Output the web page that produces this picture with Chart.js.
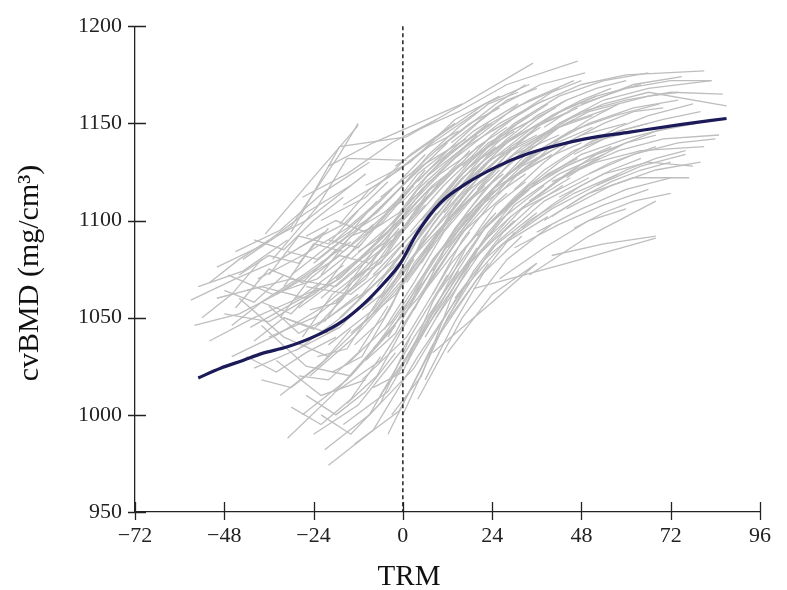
<!DOCTYPE html>
<html>
<head>
<meta charset="utf-8">
<script src="https://cdn.jsdelivr.net/npm/chart.js@4/dist/chart.umd.min.js"></script>
<style>
  body { margin: 0; background: #fff; }
</style>
</head>
<body>
<canvas id="trmChart" width="787" height="590"></canvas>
<script>
// axis ticks
var trmTicks = [-72, -48, -24, 0, 24, 48, 72, 96];
var bmdTicks = [950, 1000, 1050, 1100, 1150, 1200];

// fitted mean curve
var meanTRM = [-55, -49, -43, -38, -31, -23, -16, -10, -5, -1, 4, 10, 17, 25, 33, 41, 49, 61, 75, 87];
var meanBMD = [1019, 1024, 1028, 1031.5, 1035, 1041, 1048.5, 1058, 1068, 1077, 1094, 1109, 1119, 1127.5, 1134, 1138.5, 1142, 1145.5, 1149.5, 1152.5];

// individual subjects, one [TRM, cvBMD] pair per visit
// first visit well before TRM 0
var earlyStart = [
  [[-57, 1059], [-45, 1070], [-33, 1080], [-21, 1094]],
  [[-56, 1046], [-44, 1052], [-32, 1064], [-20, 1078], [-8, 1096]],
  [[-55, 1066], [-43, 1074], [-31, 1090]],
  [[-54, 1050], [-46, 1062], [-38, 1080]],
  [[-52, 1038], [-40, 1050], [-28, 1060], [-16, 1077]],
  [[-52, 1068], [-44, 1080], [-36, 1090]],
  [[-50, 1076], [-38, 1087], [-26, 1104], [-14, 1118]],
  [[-50, 1060], [-38, 1066], [-26, 1060]],
  [[-48, 1052], [-36, 1048], [-24, 1062], [-12, 1080], [0, 1102]],
  [[-48, 1064], [-40, 1058], [-32, 1072]],
  [[-47, 1072], [-35, 1062], [-23, 1070], [-11, 1088]],
  [[-46, 1030], [-34, 1041], [-22, 1055], [-10, 1074]],
  [[-46, 1046], [-38, 1058], [-30, 1052], [-22, 1068]],
  [[-45, 1084], [-33, 1095], [-21, 1115], [-9, 1130]],
  [[-45, 1055], [-36, 1075], [-27, 1068], [-18, 1085]],
  [[-44, 1060], [-32, 1040], [-20, 1030]],
  [[-44, 1072], [-36, 1082], [-28, 1078], [-20, 1096]],
  [[-43, 1080], [-30, 1097], [-17, 1134], [-12, 1150]],
  [[-42, 1064], [-30, 1070], [-18, 1066], [-6, 1085]],
  [[-42, 1030], [-34, 1022], [-26, 1032], [-18, 1040]],
  [[-41, 1045], [-29, 1058], [-17, 1070], [-5, 1092], [7, 1116]],
  [[-40, 1024], [-28, 1034], [-16, 1051], [-4, 1074]],
  [[-40, 1090], [-32, 1085], [-24, 1100], [-16, 1112]],
  [[-40, 1038], [-32, 1050], [-24, 1044], [-16, 1060]],
  [[-39, 1070], [-27, 1082], [-15, 1096], [-3, 1116]],
  [[-38, 1058], [-26, 1073], [-14, 1089]],
  [[-38, 1046], [-26, 1025], [-14, 1020], [-2, 1046]],
  [[-38, 1018], [-30, 1014], [-22, 1026], [-14, 1044]],
  [[-37, 1093], [-25, 1120], [-12, 1149]],
  [[-36, 1040], [-24, 1050], [-12, 1068], [0, 1090]],
  [[-36, 1072], [-28, 1092], [-20, 1088], [-12, 1105]],
  [[-36, 1056], [-28, 1042], [-20, 1050], [-12, 1062]],
  [[-35, 1080], [-23, 1107], [-15, 1132], [1, 1131]],
  [[-34, 1062], [-22, 1077], [-10, 1099], [2, 1122]],
  [[-34, 1028], [-22, 1010], [-10, 1018]],
  [[-34, 1092], [-26, 1100], [-18, 1112], [-10, 1124]],
  [[-33, 1010], [-21, 1028], [-9, 1050], [3, 1080]],
  [[-33, 1050], [-25, 1070], [-17, 1082], [-9, 1078], [-1, 1096]],
  [[-32, 1050], [-20, 1042], [-8, 1060]],
  [[-32, 1066], [-24, 1088], [-16, 1084], [-8, 1098]],
  [[-31, 988], [-19, 1010], [-7, 1036], [5, 1068]],
  [[-31, 1084], [-23, 1080], [-15, 1092], [-7, 1110]],
  [[-30, 1094], [-17, 1138], [1, 1143], [35, 1181]],
  [[-30, 1072], [-18, 1090], [-6, 1110], [6, 1134]],
  [[-30, 1004], [-22, 995], [-14, 1008], [-6, 1030]],
  [[-29, 1033], [-17, 1045], [-5, 1068], [7, 1098]],
  [[-29, 1060], [-21, 1066], [-13, 1086], [-5, 1102], [3, 1118]],
  [[-28, 1086], [-16, 1098], [-4, 1120]],
  [[-28, 1055], [-16, 1072], [-4, 1094], [8, 1118]],
  [[-28, 1020], [-20, 1018], [-12, 1032], [-4, 1056]],
  [[-27, 1000], [-15, 1018], [-3, 1044], [9, 1078]],
  [[-27, 1112], [-15, 1124], [-3, 1140], [9, 1152]],
  [[-27, 1040], [-19, 1062], [-11, 1074], [-3, 1090]],
  [[-26, 1066], [-14, 1062], [-2, 1080], [10, 1105]],
  [[-26, 1092], [-18, 1100], [-10, 1094], [-2, 1108], [6, 1126]],
  [[-26, 1010], [-18, 1000], [-10, 1012], [-2, 1032]],
  [[-25, 1020], [-13, 1040], [-1, 1066], [11, 1096]],
  [[-25, 1054], [-17, 1058], [-9, 1076], [-1, 1100], [7, 1120]],
  [[-24, 990], [-12, 1005], [0, 1034], [12, 1072]],
  [[-24, 1078], [-12, 1096], [0, 1118], [12, 1140]],
  [[-23, 1046], [-11, 1062], [1, 1090], [13, 1115]],
  [[-23, 1030], [-15, 1034], [-7, 1058], [1, 1082], [9, 1104]],
  [[-22, 1100], [-10, 1112], [2, 1134], [14, 1150]],
  [[-22, 1060], [-10, 1080], [2, 1104], [14, 1126]],
  [[-22, 1072], [-14, 1092], [-6, 1098], [2, 1116]],
  [[-22, 1000], [-14, 990], [-6, 1006], [2, 1040]],
  [[-21, 982], [-9, 1000], [3, 1040], [15, 1074]],
  [[-21, 1048], [-13, 1070], [-5, 1082], [3, 1104], [11, 1122]]
];

// first visit shortly before or after TRM 0
var midStart = [
  [[-20, 974], [-8, 992], [4, 1030], [16, 1064]],
  [[-20, 1036], [-8, 1054], [4, 1084], [16, 1108]],
  [[-20, 1128], [-8, 1140], [4, 1150], [16, 1160]],
  [[-20, 1090], [-12, 1086], [-4, 1104], [4, 1124], [12, 1136]],
  [[-19, 1088], [-7, 1104], [5, 1128], [17, 1142]],
  [[-19, 1022], [-11, 1030], [-3, 1056], [5, 1090], [13, 1110]],
  [[-18, 1012], [-6, 1028], [6, 1064], [18, 1094]],
  [[-18, 1070], [-6, 1088], [6, 1114], [18, 1132], [30, 1146]],
  [[-18, 1058], [-10, 1070], [-2, 1092], [6, 1108]],
  [[-17, 1050], [-5, 1072], [7, 1102], [19, 1124]],
  [[-17, 1098], [-9, 1116], [-1, 1126], [7, 1138], [15, 1146]],
  [[-16, 995], [-4, 1012], [8, 1052], [20, 1086]],
  [[-16, 1108], [-4, 1122], [8, 1140], [20, 1156]],
  [[-16, 1064], [-8, 1084], [0, 1096], [8, 1118], [16, 1130]],
  [[-15, 1026], [-3, 1048], [9, 1082], [21, 1108], [33, 1124]],
  [[-15, 1006], [-7, 1020], [1, 1048], [9, 1074], [17, 1096]],
  [[-14, 1080], [-2, 1100], [10, 1124], [22, 1140]],
  [[-14, 1042], [-2, 1062], [10, 1096], [22, 1118]],
  [[-14, 1070], [-6, 1078], [2, 1100], [10, 1120], [18, 1136]],
  [[-13, 985], [-1, 1002], [11, 1046], [23, 1078]],
  [[-13, 1036], [-5, 1050], [3, 1078], [11, 1098], [19, 1116]],
  [[-12, 1060], [0, 1080], [12, 1110], [24, 1132], [36, 1144]],
  [[-12, 1096], [0, 1110], [12, 1134], [24, 1150]],
  [[-12, 1084], [-4, 1094], [4, 1116], [12, 1130], [20, 1144]],
  [[-11, 1018], [1, 1040], [13, 1078], [25, 1104]],
  [[-11, 1054], [-3, 1066], [5, 1094], [13, 1112], [21, 1126]],
  [[-10, 1118], [2, 1130], [14, 1152], [26, 1164]],
  [[-10, 1048], [2, 1074], [14, 1104], [26, 1126]],
  [[-10, 1028], [-2, 1042], [6, 1072], [14, 1096], [22, 1112]],
  [[-9, 1000], [3, 1024], [15, 1062], [27, 1088], [39, 1102]],
  [[-9, 1094], [-1, 1104], [7, 1124], [15, 1138], [23, 1150]],
  [[-8, 1072], [4, 1096], [16, 1122], [28, 1140]],
  [[-8, 1034], [4, 1060], [16, 1094], [28, 1114]],
  [[-8, 1014], [0, 1022], [8, 1058], [16, 1084], [24, 1102]],
  [[-7, 1090], [5, 1116], [17, 1138], [29, 1152]],
  [[-7, 1066], [1, 1086], [9, 1110], [17, 1126], [25, 1138]],
  [[-6, 1010], [6, 1044], [18, 1078], [30, 1100]],
  [[-6, 1060], [6, 1090], [18, 1116], [30, 1134], [42, 1144]],
  [[-6, 1112], [2, 1124], [10, 1138], [18, 1150], [26, 1158]],
  [[-5, 1104], [7, 1126], [19, 1146], [31, 1160]],
  [[-5, 1044], [3, 1068], [11, 1094], [19, 1112], [27, 1124]],
  [[-4, 990], [8, 1036], [20, 1070], [32, 1092]],
  [[-4, 1040], [8, 1080], [20, 1108], [32, 1126]],
  [[-4, 1086], [4, 1106], [12, 1122], [20, 1138], [28, 1148]],
  [[-3, 1076], [9, 1106], [21, 1132], [33, 1146], [45, 1156]],
  [[-3, 1000], [5, 1020], [13, 1060], [21, 1088], [29, 1102]],
  [[-2, 1020], [10, 1060], [22, 1096], [34, 1116]],
  [[-2, 1128], [10, 1144], [22, 1160], [34, 1170]],
  [[-2, 1062], [6, 1082], [14, 1108], [22, 1126], [30, 1138]],
  [[-1, 1092], [11, 1118], [23, 1140], [35, 1152]],
  [[-1, 1116], [7, 1134], [15, 1148], [23, 1160], [31, 1166]],
  [[0, 1000], [12, 1050], [24, 1086], [36, 1104]],
  [[0, 1050], [12, 1088], [24, 1116], [36, 1130], [48, 1140]],
  [[0, 1072], [8, 1098], [16, 1118], [24, 1136], [32, 1146]],
  [[1, 1144], [15, 1156], [28, 1170], [47, 1182]],
  [[1, 1068], [13, 1100], [25, 1126], [37, 1140]],
  [[1, 1026], [9, 1056], [17, 1086], [25, 1108], [33, 1120]],
  [[2, 1030], [14, 1070], [26, 1100], [38, 1118]],
  [[2, 1110], [14, 1132], [26, 1150], [38, 1162]],
  [[2, 1094], [10, 1112], [18, 1130], [26, 1144], [34, 1154]],
  [[3, 1082], [15, 1112], [27, 1134], [39, 1146], [51, 1154]],
  [[3, 1054], [11, 1084], [19, 1106], [27, 1122], [35, 1134]],
  [[4, 1008], [16, 1050], [28, 1080], [40, 1098]],
  [[4, 1058], [16, 1094], [28, 1120], [40, 1134]],
  [[4, 1120], [12, 1136], [20, 1150], [28, 1162], [36, 1168]],
  [[5, 1100], [17, 1126], [29, 1146], [41, 1158]],
  [[5, 1078], [13, 1104], [21, 1124], [29, 1138], [37, 1148]],
  [[6, 1040], [18, 1080], [30, 1108], [42, 1124], [54, 1134]],
  [[6, 1122], [18, 1140], [30, 1158], [42, 1168]],
  [[6, 1018], [14, 1048], [22, 1074], [30, 1094]],
  [[7, 1102], [15, 1122], [23, 1138], [31, 1150], [39, 1160]],
  [[8, 1032], [24, 1058], [36, 1078]],
  [[8, 1074], [20, 1106], [32, 1128], [44, 1140]],
  [[8, 1090], [20, 1118], [32, 1138], [44, 1150], [56, 1158]],
  [[8, 1062], [16, 1090], [24, 1110], [32, 1126], [40, 1136]],
  [[9, 1050], [21, 1084], [33, 1108], [45, 1122]],
  [[9, 1136], [17, 1148], [25, 1160], [33, 1170]]
];

// first visit well after TRM 0
var lateStart = [
  [[10, 1130], [22, 1148], [34, 1162], [46, 1172]],
  [[10, 1064], [22, 1096], [34, 1118], [46, 1130], [58, 1138]],
  [[10, 1084], [18, 1106], [26, 1124], [34, 1138], [42, 1148]],
  [[11, 1104], [23, 1130], [35, 1148], [47, 1158]],
  [[11, 1046], [19, 1074], [27, 1094], [35, 1108], [43, 1118]],
  [[12, 1032], [24, 1062], [36, 1078]],
  [[12, 1086], [24, 1114], [36, 1132], [48, 1144], [60, 1150]],
  [[12, 1110], [20, 1128], [28, 1142], [36, 1154], [44, 1162]],
  [[13, 1140], [25, 1158], [37, 1170], [49, 1176]],
  [[14, 1060], [26, 1090], [38, 1110], [50, 1122]],
  [[14, 1096], [22, 1116], [30, 1132], [38, 1144], [46, 1152]],
  [[15, 1098], [27, 1122], [39, 1138], [51, 1148]],
  [[15, 1070], [23, 1094], [31, 1112], [39, 1124], [47, 1132]],
  [[16, 1118], [28, 1140], [40, 1154], [52, 1164], [64, 1170]],
  [[16, 1128], [24, 1144], [32, 1156], [40, 1166], [48, 1172]],
  [[17, 1076], [29, 1102], [41, 1120], [53, 1132]],
  [[18, 1130], [30, 1150], [42, 1164], [54, 1172], [66, 1176]],
  [[18, 1100], [26, 1120], [34, 1136], [42, 1148], [50, 1156], [58, 1160]],
  [[19, 1065], [44, 1078], [68, 1091]],
  [[20, 1092], [32, 1114], [44, 1128], [56, 1138]],
  [[20, 1116], [28, 1134], [36, 1148], [44, 1158], [52, 1164]],
  [[21, 1110], [33, 1132], [45, 1146], [57, 1154], [69, 1160]],
  [[22, 1080], [34, 1100], [46, 1114], [58, 1124]],
  [[22, 1096], [30, 1112], [38, 1126], [46, 1136], [54, 1142], [62, 1146]],
  [[24, 1146], [36, 1160], [48, 1170], [60, 1175], [81, 1177]],
  [[24, 1100], [36, 1120], [48, 1134], [60, 1142], [72, 1148]],
  [[24, 1126], [32, 1142], [40, 1154], [48, 1162], [56, 1168]],
  [[26, 1120], [38, 1138], [50, 1150], [62, 1158], [74, 1162]],
  [[26, 1104], [34, 1118], [42, 1130], [50, 1140], [58, 1146], [66, 1150]],
  [[26, 1070], [38, 1086], [50, 1100], [60, 1106]],
  [[28, 1090], [40, 1106], [52, 1118], [64, 1128], [76, 1134]],
  [[28, 1140], [36, 1152], [44, 1162], [52, 1168], [60, 1172]],
  [[30, 1134], [42, 1150], [54, 1162], [66, 1168], [83, 1172]],
  [[30, 1116], [38, 1130], [46, 1142], [54, 1150], [62, 1156], [70, 1158]],
  [[30, 1086], [42, 1098], [54, 1108], [66, 1116]],
  [[32, 1096], [40, 1108], [48, 1118], [56, 1126], [64, 1132]],
  [[32, 1106], [44, 1118], [56, 1130], [68, 1138]],
  [[34, 1072], [50, 1092], [68, 1110]],
  [[34, 1110], [46, 1126], [58, 1136], [70, 1142], [85, 1144]],
  [[34, 1128], [42, 1142], [50, 1152], [58, 1160], [66, 1164], [74, 1166]],
  [[36, 1142], [48, 1156], [60, 1162], [72, 1166], [86, 1165]],
  [[36, 1112], [44, 1124], [52, 1134], [60, 1140], [68, 1144]],
  [[36, 1094], [48, 1106], [60, 1116], [72, 1122]],
  [[38, 1100], [50, 1114], [62, 1122], [77, 1122]],
  [[38, 1148], [46, 1158], [54, 1164], [62, 1170], [75, 1174]],
  [[40, 1120], [52, 1130], [64, 1136], [81, 1138]],
  [[40, 1082], [54, 1088], [68, 1092]],
  [[40, 1102], [48, 1112], [56, 1120], [64, 1126], [72, 1130]],
  [[42, 1150], [54, 1160], [66, 1166], [87, 1159]],
  [[42, 1112], [54, 1124], [66, 1130], [78, 1128]],
  [[44, 1122], [52, 1132], [60, 1140], [68, 1146], [79, 1150]],
  [[44, 1106], [56, 1118], [68, 1126], [80, 1130]],
  [[46, 1134], [58, 1146], [70, 1152], [80, 1156]],
  [[46, 1096], [54, 1104], [62, 1110], [72, 1114]],
  [[48, 1160], [60, 1168], [72, 1172], [83, 1172]],
  [[50, 1140], [58, 1148], [66, 1154], [78, 1160]],
  [[50, 1124], [62, 1134], [74, 1140], [84, 1142]],
  [[52, 1118], [60, 1126], [68, 1132], [76, 1136]]
];

var serif = '"Liberation Serif", "Times New Roman", serif';

function subjectDataset(visits) {
    return {
        data: visits.map(function (p) { return { x: p[0], y: p[1] }; }),
        borderColor: '#bebebe',
        borderWidth: 1.3,
        pointRadius: 0,
        showLine: true,
        tension: 0,
        order: 1
    };
}

var datasets = earlyStart.concat(midStart, lateStart).map(subjectDataset);

// mean curve on top
datasets.push({
    data: meanTRM.map(function (t, i) { return { x: t, y: meanBMD[i] }; }),
    borderColor: '#1c1a58',
    borderWidth: 3.2,
    pointRadius: 0,
    showLine: true,
    cubicInterpolationMode: 'monotone',
    order: 0
});

/**
 * Dashed line at TRM 0, crossing tick marks and axis titles
 */
var axisDecor = {
    id: 'axisDecor',
    afterDatasetsDraw: function (chart) {
        var ctx = chart.ctx, xs = chart.scales.x, ys = chart.scales.y;
        var x0 = xs.getPixelForValue(0);
        ctx.save();
        ctx.strokeStyle = '#222';
        ctx.lineWidth = 1.5;
        ctx.setLineDash([4, 3]);
        ctx.beginPath();
        ctx.moveTo(x0, ys.getPixelForValue(1200));
        ctx.lineTo(x0, ys.getPixelForValue(950));
        ctx.stroke();
        ctx.restore();
    },
    afterDraw: function (chart) {
        var ctx = chart.ctx, xs = chart.scales.x, ys = chart.scales.y;
        var left = chart.chartArea.left, bottom = chart.chartArea.bottom;
        ctx.save();
        ctx.strokeStyle = '#222';
        ctx.lineWidth = 1.3;
        ctx.beginPath();
        bmdTicks.forEach(function (v) {
            var py = Math.round(ys.getPixelForValue(v)) + 0.5;
            ctx.moveTo(left - 7, py);
            ctx.lineTo(left + 11, py);
        });
        trmTicks.forEach(function (t) {
            var px = Math.round(xs.getPixelForValue(t)) + 0.5;
            ctx.moveTo(px, bottom - 10);
            ctx.lineTo(px, bottom + 8);
        });
        ctx.stroke();

        ctx.fillStyle = '#111';
        ctx.textAlign = 'center';
        ctx.textBaseline = 'middle';
        ctx.font = '29px ' + serif;
        ctx.fillText('TRM', 409, 577);

        ctx.translate(30, 273);
        ctx.rotate(-Math.PI / 2);
        ctx.font = '30px ' + serif;
        ctx.fillText('cvBMD (mg/cm\u00b3)', 0, 0);
        ctx.restore();
    }
};

var ctx = document.getElementById('trmChart').getContext('2d');
var trmChart = new Chart(ctx, {
    type: 'scatter',
    data: { datasets: datasets },
    options: {
        responsive: false,
        animation: false,
        events: [],
        layout: { padding: { top: 21, right: 27, left: 0, bottom: 0 } },
        plugins: {
            legend: { display: false },
            tooltip: { enabled: false }
        },
        scales: {
            x: {
                type: 'linear',
                min: -72,
                max: 96,
                afterBuildTicks: function (s) { s.ticks = trmTicks.map(function (v) { return { value: v }; }); },
                afterFit: function (s) { s.height = 78; },
                grid: { display: false, drawTicks: false },
                border: { display: true, color: '#222', width: 1.3 },
                ticks: {
                    padding: 11,
                    color: '#222',
                    maxRotation: 0,
                    font: { family: serif, size: 22 },
                    callback: function (v) { return String(v).replace('-', '\u2212'); }
                }
            },
            y: {
                type: 'linear',
                min: 950,
                max: 1200,
                afterBuildTicks: function (s) { s.ticks = bmdTicks.map(function (v) { return { value: v }; }); },
                afterFit: function (s) { s.width = 135; },
                grid: { display: false, drawTicks: false },
                border: { display: true, color: '#222', width: 1.3 },
                ticks: {
                    padding: 13,
                    color: '#222',
                    font: { family: serif, size: 22 },
                    callback: function (v) { return String(v); }
                }
            }
        }
    },
    plugins: [axisDecor]
});
</script>
</body>
</html>
